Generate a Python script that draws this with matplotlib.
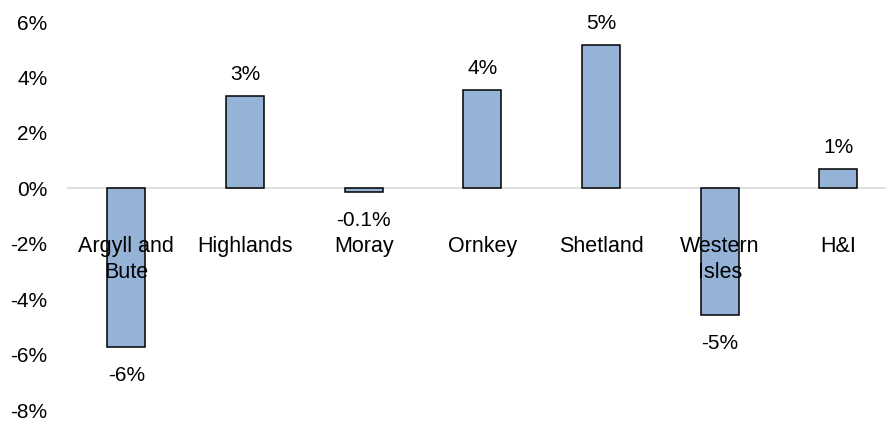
import matplotlib.pyplot as plt
import numpy as np

plt.rcParams['font.family'] = ['Liberation Sans', 'DejaVu Sans']

regions = ["Argyll and\nBute", "Highlands", "Moray", "Ornkey", "Shetland", "Western\nIsles", "H&I"]
change = [-5.73, 3.32, -0.13, 3.56, 5.18, -4.57, 0.68]
labels = ["-6%", "3%", "-0.1%", "4%", "5%", "-5%", "1%"]
yticks = [-8, -6, -4, -2, 0, 2, 4, 6]

W, H = 887, 421
fig = plt.figure(figsize=(W / 100, H / 100), dpi=100)
ax = fig.add_axes([67 / W, (H - 410) / H, (W - 67) / W, 388 / H])

x = np.arange(len(regions))
ax.bar(x, change, width=0.32, color="#95B3D7", edgecolor="black", linewidth=1.1, zorder=3)
ax.axhline(0, color="#D9D9D9", linewidth=1.2, zorder=2)

for xi, v, lab in zip(x, change, labels):
    off = 15.5 if v >= 0 else -20.5
    ax.annotate(lab, (xi, v), xytext=(0, off), textcoords="offset points",
                ha="center", va="center", fontsize=15)

# category names sit in the band just under the zero line
for xi, name in zip(x, regions):
    ax.text(xi, -1.71, name, ha="center", va="top", fontsize=15.5, linespacing=1.32, zorder=4)

ax.set_ylim(-8, 6)
ax.set_xlim(-0.5, 6.41)
ax.set_yticks(yticks)
ax.set_yticklabels([f"{t}%" for t in yticks], fontsize=15)
ax.tick_params(axis="y", length=0, pad=14)
ax.set_xticks([])
for s in ax.spines.values():
    s.set_visible(False)

fig.savefig("out.png", dpi=100)
